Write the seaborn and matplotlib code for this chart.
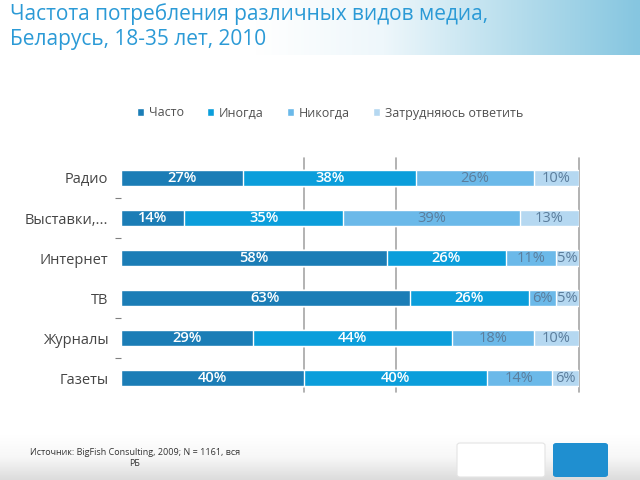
import numpy as np
import pandas as pd
import matplotlib
matplotlib.use("Agg")
import matplotlib.pyplot as plt
import seaborn as sns
from matplotlib.colors import LinearSegmentedColormap
from matplotlib.patches import FancyBboxPatch, Rectangle

# data (percent)
media = ["Радио", "Выставки,...", "Интернет", "ТВ", "Журналы", "Газеты"]
often = [27, 14, 58, 63, 29, 40]
sometimes = [38, 35, 26, 26, 44, 40]
never = [26, 39, 11, 6, 18, 14]
hard_to_say = [10, 13, 5, 5, 10, 6]

series_names = ["Часто", "Иногда", "Никогда", "Затрудняюсь ответить"]
colors = ["#1b7db6", "#0b9edb", "#6bb9e9", "#b5d8f1"]
label_colors = ["white", "white", "#5b7d9c", "#5b7d9c"]

df = pd.DataFrame({"media": media, "Часто": often, "Иногда": sometimes,
                   "Никогда": never, "Затрудняюсь ответить": hard_to_say})
vals = df[series_names].astype(float)
shares = vals.div(vals.sum(axis=1), axis=0)   # 100% stacked
cum = shares.cumsum(axis=1)

sns.set_theme(style="white")
plt.rcParams["font.family"] = ["Open Sans", "DejaVu Sans"]

fig = plt.figure(figsize=(6.4, 4.8), dpi=100)

# header gradient
hdr = fig.add_axes([0, 1 - 55 / 480, 1, 55 / 480])
grad = np.tile(np.linspace(0, 1, 256), (10, 1))
hdr_cmap = LinearSegmentedColormap.from_list(
    "hdr", ["#ffffff", "#ffffff", "#ffffff", "#eef7fb", "#b8deed", "#86c6e0"])
hdr.imshow(grad, aspect="auto", cmap=hdr_cmap, extent=[0, 1, 0, 1])
hdr.axis("off")

# footer gradient
ftr = fig.add_axes([0, 0, 1, 45 / 480])
fgrad = np.tile(np.linspace(0, 1, 64), (10, 1)).T
ftr_cmap = LinearSegmentedColormap.from_list("ftr", ["#dcdcdc", "#f7f7f7", "#ffffff"])
ftr.imshow(fgrad, aspect="auto", cmap=ftr_cmap, extent=[0, 1, 0, 1], origin="lower")
ftr.axis("off")
fig.patches.append(FancyBboxPatch((457 / 640, 3 / 480), 88 / 640, 34 / 480,
                                  boxstyle="round,pad=0,rounding_size=0.005",
                                  transform=fig.transFigure, fc="white", ec="#e4e4e4", lw=0.8))
fig.patches.append(FancyBboxPatch((553 / 640, 3 / 480), 55 / 640, 34 / 480,
                                  boxstyle="round,pad=0,rounding_size=0.005",
                                  transform=fig.transFigure, fc="#1f8fd0", ec="none"))

ax = fig.add_axes([121 / 640, 1 - 392 / 480, 458 / 640, 234 / 480])

# stacked bars: draw cumulative totals from the back to the front
for i in range(len(series_names) - 1, -1, -1):
    sns.barplot(x=cum[series_names[i]], y=df["media"], color=colors[i],
                orient="h", width=0.4, ax=ax, saturation=1, zorder=2)

for i, name in enumerate(series_names):
    mid = cum[name] - shares[name] / 2
    for j in range(len(media)):
        ax.text(mid.iloc[j], j, f"{int(vals[name].iloc[j])}%", ha="center", va="center",
                color=label_colors[i], fontsize=10.5,
                fontweight="semibold" if i < 2 else "normal", zorder=3)

for xv in [0.4, 0.6, 1.0]:
    ax.axvline(xv, color="#a6a6a6", lw=1.2, zorder=1, clip_on=False)

ax.set_xlim(0, 1.0)
ax.set_ylim(5.35, -0.5)
ax.set_xlabel("")
ax.set_ylabel("")
ax.set_xticks([])
ax.tick_params(axis="y", length=0, labelsize=10.5, labelcolor="#454545", pad=9)
ax.set_yticks([0.5, 1.5, 3.5, 4.5], minor=True)
ax.tick_params(axis="y", which="minor", length=4, color="#808080", width=0.8, left=True)
sns.despine(ax=ax, left=True, bottom=True)

handles = [Rectangle((0, 0), 1, 1, fc=c) for c in colors]
fig.legend(handles, series_names, loc="center", bbox_to_anchor=(330 / 640, 1 - 113 / 480),
           ncol=4, frameon=False, fontsize=9, handlelength=0.6, handleheight=0.6,
           columnspacing=1.8, handletextpad=0.4, labelcolor="#505050")

fig.text(10 / 640, 1 - 14 / 480, "Частота потребления различных видов медиа,",
         fontsize=15, color="#2b9ad6", va="center", ha="left")
fig.text(10 / 640, 1 - 40 / 480, "Беларусь, 18-35 лет, 2010",
         fontsize=15, color="#2b9ad6", va="center", ha="left")

fig.text(135 / 640, 1 - 458 / 480, "Источник: BigFish Consulting, 2009; N = 1161, вся\nРБ",
         fontsize=6.5, color="#333333", ha="center", va="center", multialignment="center")

fig.savefig("out.png", dpi=100)
